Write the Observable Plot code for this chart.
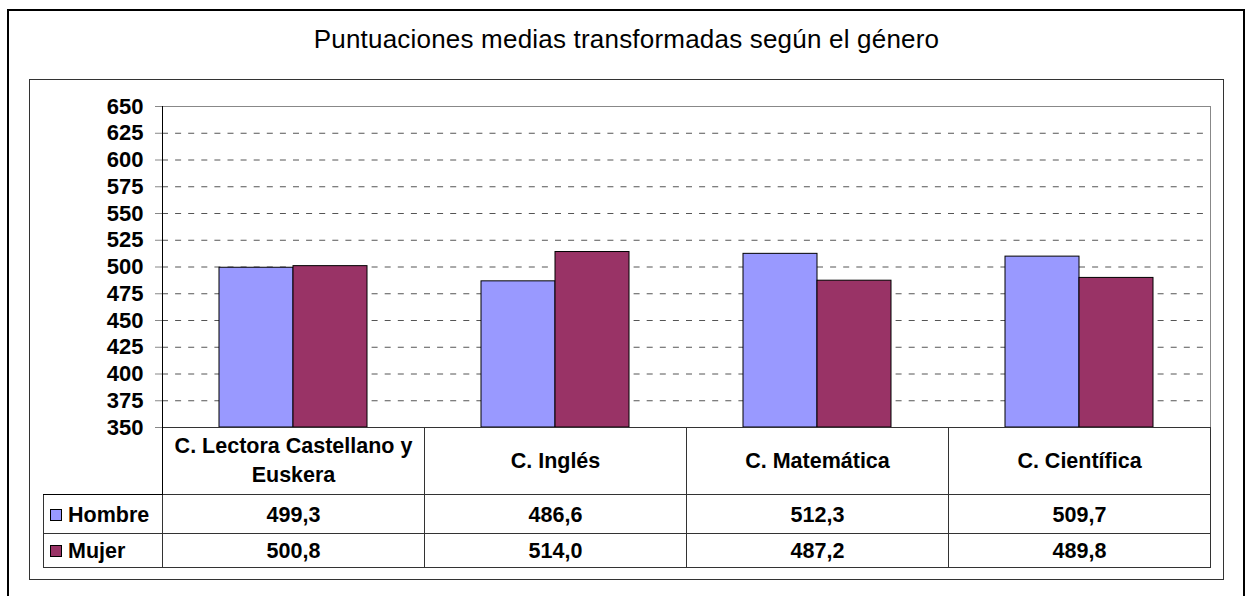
<!DOCTYPE html>
<html>
<head>
<meta charset="utf-8">
<script src="https://cdn.jsdelivr.net/npm/d3@7"></script>
<script src="https://cdn.jsdelivr.net/npm/@observablehq/plot@0.6"></script>
<style>
  html, body { margin: 0; padding: 0; background: #fff; }
  body { width: 1247px; height: 596px; position: relative; overflow: hidden;
         font-family: "Liberation Sans", Arial, sans-serif; }
  #outer { position: absolute; left: 7px; top: 9px; width: 1238px; height: 700px;
           border: 2px solid #000; box-sizing: border-box; }
  #inner { position: absolute; left: 29px; top: 79px; width: 1195px; height: 501px;
           border: 1px solid #333; box-sizing: border-box; }
  #title { position: absolute; left: 29px; width: 1195px; top: 21px; text-align: center;
           font-size: 26px; letter-spacing: 0.2px; line-height: 36px; color: #000; }
  #chart { position: absolute; left: 30px; top: 80px; }
  #chart svg { overflow: visible; }
  #tbl { position: absolute; left: 43px; top: 427px; border-collapse: collapse;
         table-layout: fixed; font-weight: bold; font-size: 21.5px; color: #000; }
  #tbl td { border: 1px solid #333; text-align: center; padding: 0; }
  #tbl td.first { border-color: #000; }
  #tbl tr.head td { height: 66px; line-height: 29px; padding: 0 8px; }
  #tbl tr.head td.empty { border-top: none; border-left: none; }
  #tbl tr.r0 td { height: 36px; padding-top: 2px; }
  #tbl tr.r1 td { height: 32px; padding-top: 1px; }
  #tbl td.leg { text-align: left; padding-left: 6px; white-space: nowrap; }
  .sw { display: inline-block; width: 10px; height: 10px; border: 1px solid #000;
        margin-right: 6px; vertical-align: 1px; }
</style>
</head>
<body>
<div id="outer"></div>
<div id="inner"></div>
<div id="title">Puntuaciones medias transformadas según el género</div>
<div id="chart"></div>
<table id="tbl"></table>
<script>
const categories = ["C. Lectora Castellano y Euskera", "C. Inglés", "C. Matemática", "C. Científica"];
const series = ["Hombre", "Mujer"];
const hombre = [499.3, 486.6, 512.3, 509.7];
const mujer = [500.8, 514.0, 487.2, 489.8];
const seriesColors = ["#9999FF", "#993366"];
const yTicks = [350, 375, 400, 425, 450, 475, 500, 525, 550, 575, 600, 625, 650];
const yMin = 350, yMax = 650;

const values = {Hombre: hombre, Mujer: mujer};
const data = categories.flatMap((c, i) => series.map(s => ({cat: c, gender: s, value: values[s][i]})));

const chart = Plot.plot({
  width: 1192,
  height: 347,
  marginLeft: 132,
  marginRight: 12,
  marginTop: 26,
  marginBottom: 0,
  style: {background: "transparent", overflow: "visible", fontFamily: "'Liberation Sans', Arial, sans-serif",
          fontSize: "22px", fontWeight: "bold", color: "#000"},
  facet: {data, x: "cat"},
  fx: {domain: categories, paddingInner: 0, paddingOuter: 0, axis: null},
  x: {domain: series, paddingInner: 0, paddingOuter: 0.75, axis: null},
  y: {domain: [yMin, yMax], axis: null},
  color: {domain: series, range: seriesColors},
  marks: [
    Plot.ruleY(yTicks.filter(t => t > yMin && t < yMax), {stroke: "#555", strokeDasharray: "6,7.1", strokeOpacity: 1}),
    Plot.ruleY([yMax], {stroke: "#888", strokeOpacity: 1}),
    Plot.barY(data, {x: "gender", y1: () => yMin, y2: "value", fill: "gender", stroke: "#000", strokeWidth: 1}),
    Plot.ruleY([yMin], {stroke: "#000", strokeOpacity: 1}),
    Plot.axisY({ticks: yTicks, tickSize: 7, tickPadding: 12, stroke: "#888", strokeOpacity: 1,
                tickFormat: d => String(d), fill: "#000", label: null}),
    Plot.frame({anchor: "left", facetAnchor: "left", stroke: "#000", strokeOpacity: 1}),
    Plot.frame({anchor: "right", facetAnchor: "right", stroke: "#888", strokeOpacity: 1})
  ]
});
document.getElementById("chart").appendChild(chart);

// data table below the chart
const fmt = v => v.toFixed(1).replace(".", ",");
const tbl = document.getElementById("tbl");
const cg = document.createElement("colgroup");
[119, 262, 262, 262, 262].forEach(w => { const c = document.createElement("col"); c.style.width = w + "px"; cg.appendChild(c); });
tbl.appendChild(cg);
const head = document.createElement("tr");
head.className = "head";
const e = document.createElement("td"); e.className = "empty first"; head.appendChild(e);
categories.forEach(c => { const td = document.createElement("td"); td.textContent = c; head.appendChild(td); });
tbl.appendChild(head);
series.forEach((s, si) => {
  const tr = document.createElement("tr");
  tr.className = "r" + si;
  const td = document.createElement("td");
  td.className = "leg";
  const sw = document.createElement("span");
  sw.className = "sw"; sw.style.background = seriesColors[si];
  td.appendChild(sw); td.appendChild(document.createTextNode(s));
  tr.appendChild(td);
  values[s].forEach(v => { const c = document.createElement("td"); c.textContent = fmt(v); tr.appendChild(c); });
  tbl.appendChild(tr);
});
</script>
</body>
</html>
